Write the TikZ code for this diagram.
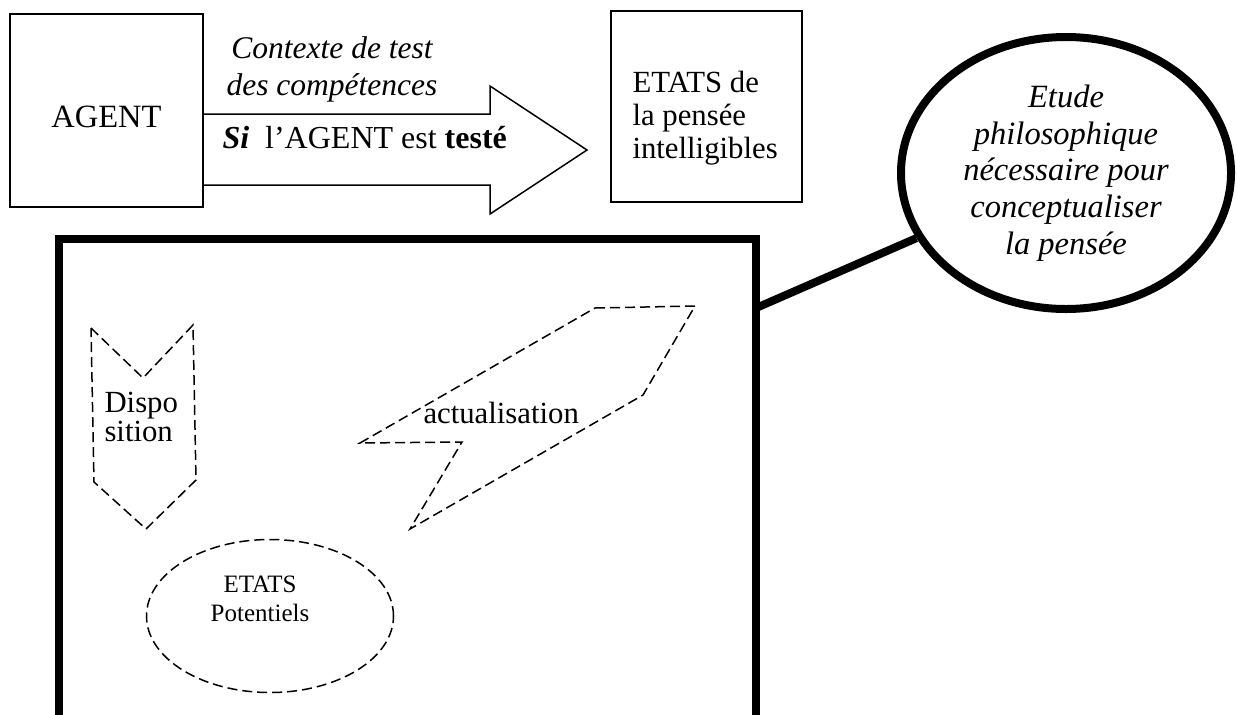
\documentclass[tikz,border=0pt]{standalone}
\usepackage{fontspec}
\setmainfont{Liberation Serif}
\usetikzlibrary{positioning,shapes.geometric}

\begin{document}
\begin{tikzpicture}[x=0.4pt,y=-0.4pt,
	boite/.style={draw,line width=0.6pt,inner sep=0pt,minimum width=77.2pt,minimum height=77.2pt},
	tiret/.style={line width=0.6pt,dash pattern=on 4pt off 2pt},
	epais/.style={draw,line width=3.2pt},
	texte/.style={inner sep=0pt,font=\fontsize{12.3}{14}\selectfont}]
		\useasboundingbox (0,0) rectangle (1237,714);

		\node[boite,font=\fontsize{13}{14}\selectfont,text height=13.8pt,text depth=0pt]	(agent)		at (106.5,110.5)	{AGENT};
		\node[boite,minimum width=76.4pt,minimum height=76.4pt]						(etats)		at (706.5,106.5)	{};
		\node[epais,ellipse,inner sep=0pt,minimum width=132pt,minimum height=108.8pt,
			align=center,font=\fontsize{13}{14.7}\selectfont\itshape]					(etude)		at (1066,173)		{Etude\\philosophique\\nécessaire pour\\conceptualiser\\la pensée};
		\node[epais,inner sep=0pt,minimum width=278.8pt,minimum height=200pt]			(cadre)		at (407.5,489)		{};
		\node[draw,tiret,ellipse,inner sep=0pt,minimum width=98.8pt,minimum height=61.2pt]	(potentiels)	at (270,616)	{};

		\node[texte,anchor=north west,align=left,font=\fontsize{12.3}{13.2}\selectfont]	(etatstexte)	at (632,71)	{ETATS de\\la pensée\\intelligibles};
		\node[texte,align=center,font=\fontsize{12.6}{14.8}\selectfont\itshape]		(contexte)	at (332,69)		{Contexte de test\\des compétences};
		\node[texte,anchor=base west,font=\fontsize{12.8}{14}\selectfont]				(si)		at (222,148)	{\textbf{\textit{Si}}~~l'AGENT est \textbf{testé}};
		\node[texte,anchor=west,align=left,font=\fontsize{12.3}{11.6}\selectfont]		(dispo)		at (104,417)	{Dispo\\sition};
		\node[texte,anchor=base west]													(actu)		at (423,423)	{actualisation};
		\node[texte,align=center,font=\fontsize{10}{11.6}\selectfont]					(etatspot)	at (260,599)	{ETATS\\Potentiels};
		\coordinate																	(attache)	at (756,308);

		\draw[line width=0.6pt] (agent.east |- 0,114) -- (490,114) -- (490,86) -- (587,150) -- (490,214) -- (490,185) -- (agent.east |- 0,185);
		\draw[tiret] (91,328) -- (143,378) -- (193,325) -- (196,480) -- (146,529) -- (94,482) -- cycle;
		\draw[tiret] (595,308) -- (695,306) -- (643,395) -- (410,529) -- (462,442) -- (360,443) -- cycle;
		\draw[epais] (attache) -- (etude);
	\end{tikzpicture}
\end{document}
